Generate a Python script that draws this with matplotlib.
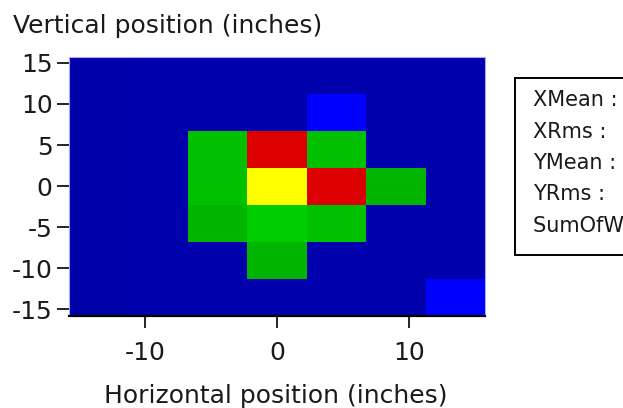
import numpy as np
import matplotlib
matplotlib.use("Agg")
import matplotlib.pyplot as plt
from matplotlib.colors import ListedColormap, BoundaryNorm
from matplotlib.patches import Rectangle

# ---- data ----
x_edges = [-15.75, -11.25, -6.75, -2.25, 2.25, 6.75, 11.25, 15.75]
y_edges = [-15.75, -11.25, -6.75, -2.25, 2.25, 6.75, 11.25, 15.75]
# counts, rows from bottom (y low) to top (y high), columns left to right
counts = [
    [0, 1, 1, 1, 1, 1, 2],
    [0, 1, 1, 4, 1, 1, 1],
    [0, 1, 4, 6, 5, 1, 1],
    [0, 1, 5, 12, 9, 4, 1],
    [0, 1, 5, 9, 5, 1, 1],
    [0, 1, 1, 1, 2, 1, 1],
    [0, 1, 1, 1, 1, 1, 1],
]
x_ticks = [-10, 0, 10]
y_ticks = [-15, -10, -5, 0, 5, 10, 15]
stats_labels = ["XMean :", "XRms :", "YMean :", "YRms :", "SumOfWeights :"]

# palette for counts 0..12
palette = [
    "#0000A9", "#0000AD", "#0000FF", "#0000FF",
    "#00B400", "#00C000", "#00CD00", "#00CD00", "#DC0000",
    "#DC0000", "#DC0000", "#FFFF00", "#FFFF00",
]

W, H = 623, 408
fig = plt.figure(figsize=(W / 100, H / 100), dpi=100)
plt.rcParams['font.family'] = ['DejaVu Sans']

ax = fig.add_axes([69.3 / W, 1 - 315.5 / H, (485 - 69.3) / W, (315.5 - 56.7) / H])
cmap = ListedColormap(palette)
norm = BoundaryNorm(np.arange(-0.5, len(palette) + 0.5), len(palette))
ax.pcolormesh(x_edges, y_edges, np.array(counts), cmap=cmap, norm=norm,
              shading='flat')
ax.set_xlim(x_edges[0], x_edges[-1])
ax.set_ylim(y_edges[0], y_edges[-1])

ax.set_xticks(x_ticks)
ax.set_yticks(y_ticks)
ax.set_xticklabels([str(v) for v in x_ticks])
ax.set_yticklabels([str(v) for v in y_ticks])
ax.tick_params(axis='x', direction='out', length=8.5, width=1.2, pad=10,
               labelsize=18, colors='black', labelcolor='#1a1a1a')
ax.tick_params(axis='y', direction='out', length=8.5, width=1.2, pad=3.5,
               labelsize=18, colors='black', labelcolor='#1a1a1a')

for side in ['top', 'right', 'left']:
    ax.spines[side].set_color('#a8a8ff')
    ax.spines[side].set_linewidth(0.8)
ax.spines['bottom'].set_color('black')
ax.spines['bottom'].set_linewidth(1.6)

fig.text(13 / W, 1 - 33.3 / H, "Vertical position (inches)", fontsize=18,
         ha='left', va='baseline', color='#1a1a1a')
fig.text(275.5 / W, 1 - 403.3 / H, "Horizontal position (inches)", fontsize=18,
         ha='center', va='baseline', color='#1a1a1a')

# stats box (cut off at the right edge, as in the reference)
fig.patches.append(Rectangle((515 / W, 1 - 255 / H), 150 / W, (255 - 78.3) / H,
                             transform=fig.transFigure, facecolor='white',
                             edgecolor='black', linewidth=1.4, clip_on=False))
baselines = [106, 137.5, 169, 200.5, 232]
for lab, b in zip(stats_labels, baselines):
    fig.text(533 / W, 1 - b / H, lab, fontsize=15, ha='left', va='baseline',
             color='#1a1a1a')

fig.savefig("out.png", dpi=100)
